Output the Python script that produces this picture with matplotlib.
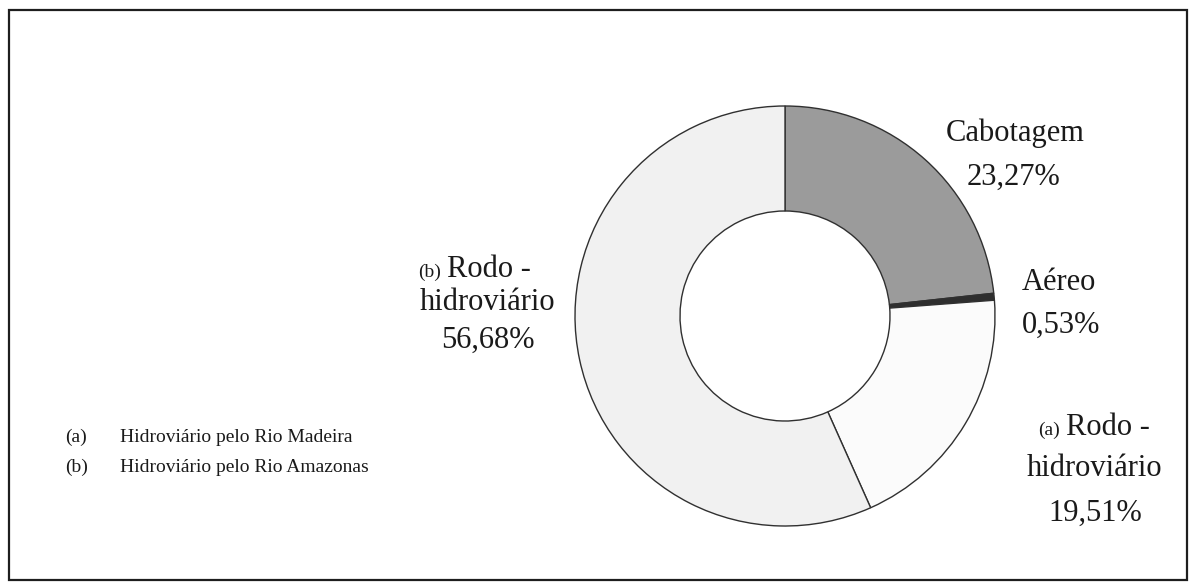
import matplotlib
matplotlib.use('Agg')
import matplotlib.pyplot as plt
from matplotlib.patches import Rectangle

plt.rcParams['font.family'] = ['Liberation Serif', 'DejaVu Serif']

# participação de cada modal (%)
modais = ['Cabotagem', 'Aéreo', 'Rodo - hidroviário (a)', 'Rodo - hidroviário (b)']
valores = [23.27, 0.53, 19.51, 56.68]
cores = ['#9b9b9b', '#2e2e2e', '#fbfbfb', '#f1f1f1']
notas_letra = ['(a)', '(b)']
notas_texto = ['Hidroviário pelo Rio Madeira', 'Hidroviário pelo Rio Amazonas']


def pct(v):
	return ('%.2f' % v).replace('.', ',') + '%'


W, H = 1196, 584
fig = plt.figure(figsize=(W / 100, H / 100), dpi=100)
ax = fig.add_axes([0, 0, 1, 1])

# eixo em pixels, y para baixo
ax.pie(valores, colors=cores, radius=210, center=(785, 316), startangle=-90, counterclock=True,
       wedgeprops={'width': 105, 'edgecolor': '#303030', 'linewidth': 1.0})
ax.set_xlim(0, W)
ax.set_ylim(H, 0)
ax.set_aspect('equal')
ax.axis('off')

ax.add_patch(Rectangle((9, 10), 1178, 570, fill=False, edgecolor='#1e1e1e', linewidth=1.6))

big = 22
small = 14
col = '#1a1a1a'

ax.text(1015, 133, modais[0], fontsize=big, ha='center', va='center', color=col)
ax.text(1013, 177, pct(valores[0]), fontsize=big, ha='center', va='center', color=col)

ax.text(1022, 282, modais[1], fontsize=big, ha='left', va='center', color=col)
ax.text(1022, 325, pct(valores[1]), fontsize=big, ha='left', va='center', color=col)

# rótulos dos dois rodo-hidroviários
for letra, x0, xs, ys, v in [('(a)', 1060, 1095, [425, 469, 513], valores[2]),
                             ('(b)', 441, 488, [267, 303, 340], valores[3])]:
	base = ys[0] + 10
	ax.text(x0, base, letra, fontsize=small, ha='right', va='baseline', color=col)
	ax.text(x0 + 6, base, 'Rodo -', fontsize=big, ha='left', va='baseline', color=col)
	ax.text(xs, ys[1], 'hidroviário', fontsize=big, ha='center', va='center', color=col)
	ax.text(xs, ys[2], pct(v), fontsize=big, ha='center', va='center', color=col)

for i, (letra, nota) in enumerate(zip(notas_letra, notas_texto)):
	ax.text(65, 437 + i * 30, letra, fontsize=14, ha='left', va='center', color=col)
	ax.text(120, 437 + i * 30, nota, fontsize=14, ha='left', va='center', color=col)

plt.savefig('out.png', dpi=100)
plt.close()
